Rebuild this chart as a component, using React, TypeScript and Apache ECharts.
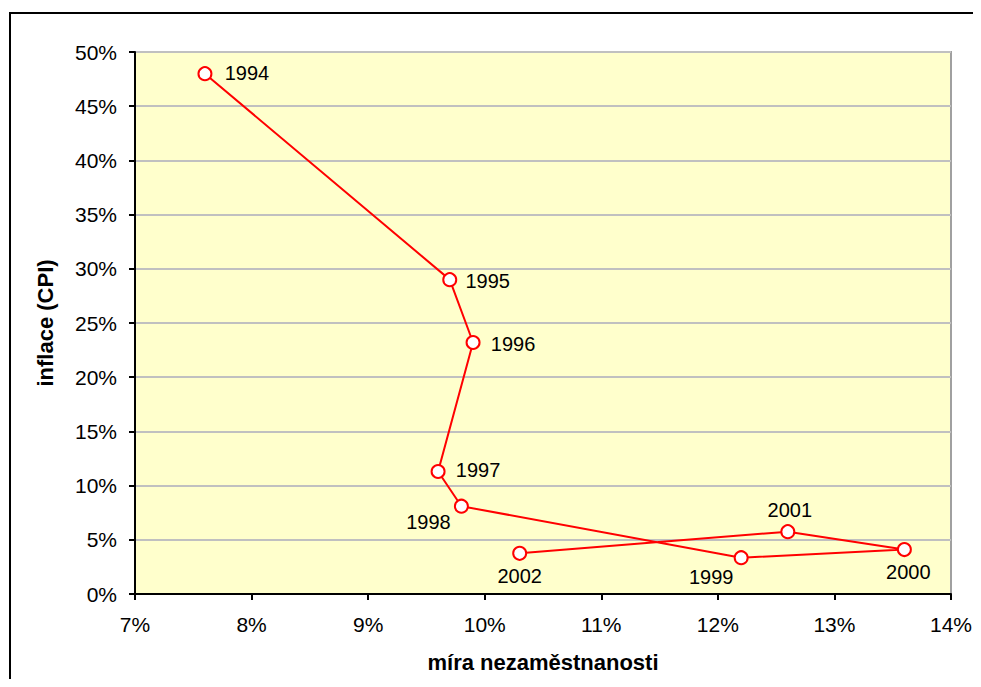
import React, { useEffect, useRef } from "react";
import * as echarts from "echarts";

const years = ["1994", "1995", "1996", "1997", "1998", "1999", "2000", "2001", "2002"];
const unemployment = [7.6, 9.7, 9.9, 9.6, 9.8, 12.2, 13.6, 12.6, 10.3];
const inflation = [48.0, 29.0, 23.2, 11.3, 8.1, 3.35, 4.1, 5.75, 3.75];
const xTicks = { min: 7, max: 14, interval: 1 };
const yTicks = { min: 0, max: 50, interval: 5 };

// label offsets (px) relative to each marker centre
const labelOffsets: Record<string, [number, number]> = {
  "1994": [42, -1],
  "1995": [38, 1],
  "1996": [40, 1],
  "1997": [40, -2],
  "1998": [-33, 16],
  "1999": [-30, 19],
  "2000": [4, 22],
  "2001": [2, -22],
  "2002": [0, 23],
};

const FONT = "'Liberation Sans', Arial, sans-serif";

export default function App() {
  const ref = useRef<HTMLDivElement>(null);
  useEffect(() => {
    if (!ref.current) return;
    const chart = echarts.init(ref.current, null, { renderer: "svg" });
    const data = years.map((y, i) => ({
      value: [unemployment[i], inflation[i]],
      name: y,
      label: {
        show: true,
        position: "inside",
        offset: labelOffsets[y],
        formatter: y,
        color: "#000",
        fontSize: 20,
        fontFamily: FONT,
        align: "center",
        verticalAlign: "middle",
      },
    }));
    chart.setOption({
      animation: false,
      backgroundColor: "#fff",
      textStyle: { fontFamily: FONT },
      graphic: [
        {
          type: "rect",
          shape: { x: 2, y: 5, width: 1000, height: 720 },
          style: { fill: "none", stroke: "#000", lineWidth: 2 },
          silent: true,
          z: -1,
        },
      ],
      grid: {
        left: 127,
        top: 44,
        width: 816,
        height: 542,
        show: true,
        backgroundColor: "#FFFFCC",
        borderColor: "#A0A0A0",
        borderWidth: 2,
        containLabel: false,
        outerBoundsMode: "none",
      },
      xAxis: {
        type: "value",
        min: xTicks.min,
        max: xTicks.max,
        interval: xTicks.interval,
        name: "míra nezaměstnanosti",
        nameLocation: "middle",
        nameGap: 57,
        nameTextStyle: { fontSize: 22, fontWeight: "bold", color: "#000", fontFamily: FONT },
        axisLine: { show: true, onZero: false, lineStyle: { color: "#000", width: 2 } },
        axisTick: { show: true, length: 6, lineStyle: { color: "#000", width: 2 } },
        axisLabel: { formatter: "{value}%", fontSize: 21, color: "#000", margin: 20, fontFamily: FONT },
        splitLine: { show: false },
      },
      yAxis: {
        type: "value",
        min: yTicks.min,
        max: yTicks.max,
        interval: yTicks.interval,
        name: "inflace (CPI)",
        nameLocation: "middle",
        nameGap: 79,
        nameTextStyle: { fontSize: 22, fontWeight: "bold", color: "#000", fontFamily: FONT },
        axisLine: { show: true, onZero: false, lineStyle: { color: "#000", width: 2 } },
        axisTick: { show: true, length: 6, lineStyle: { color: "#000", width: 2 } },
        axisLabel: { formatter: "{value}%", fontSize: 21, color: "#000", margin: 18, fontFamily: FONT },
        splitLine: { show: true, lineStyle: { color: "#C0C0C0", width: 2 } },
      },
      series: [
        {
          type: "line",
          data,
          symbol: "circle",
          symbolSize: 13,
          itemStyle: { color: "#fff", borderColor: "#FF0000", borderWidth: 2 },
          lineStyle: { color: "#FF0000", width: 2 },
          z: 3,
        },
      ],
    });
    return () => chart.dispose();
  }, []);
  return <div ref={ref} style={{ width: 965, height: 671 }} />;
}
